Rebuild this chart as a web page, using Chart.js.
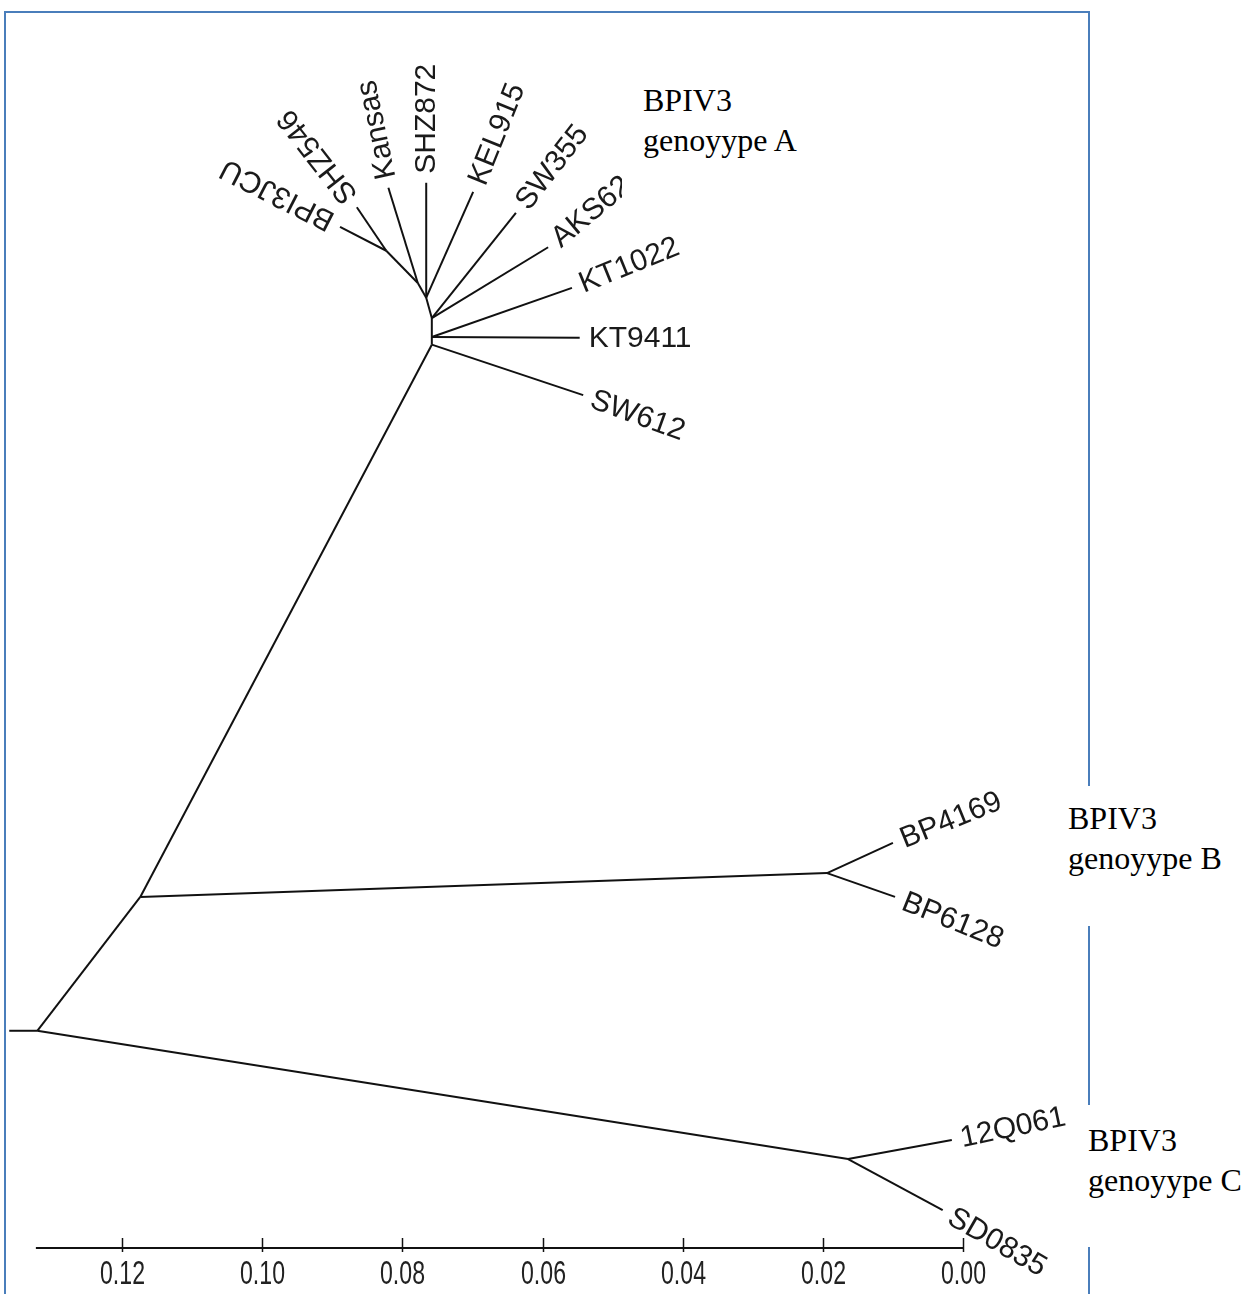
<!DOCTYPE html>
<html><head><meta charset="utf-8">
<script src="https://cdn.jsdelivr.net/npm/chart.js@4.4.0/dist/chart.umd.min.js"></script>
<style>
html,body{margin:0;padding:0;background:#fff;overflow:hidden}
#wrap{position:relative;width:1245px;height:1294px;overflow:hidden}
#frame{position:absolute;left:4px;top:11px;width:1082px;height:1400px;border:2px solid #4a7ebb}
canvas{position:absolute;left:0;top:0}
.box{position:absolute;background:#fff}
.geno{position:absolute;font-family:"Liberation Serif","Times New Roman",serif;font-size:32px;line-height:40px;color:#000;white-space:nowrap}
</style></head><body>
<div id="wrap">
  <div id="frame"></div>
  <canvas id="c" width="1245" height="1294"></canvas>
  <div class="box" style="left:622px;top:70px;width:200px;height:128px"></div>
  <div class="box" style="left:1060px;top:786px;width:185px;height:140px"></div>
  <div class="box" style="left:1078px;top:1105px;width:167px;height:142px"></div>
  <div class="geno" style="left:643px;top:80px">BPIV3<br>genoyype A</div>
  <div class="geno" style="left:1068px;top:798px">BPIV3<br>genoyype B</div>
  <div class="geno" style="left:1088px;top:1120px">BPIV3<br>genoyype C</div>
</div>
<script>
(function(){
  // node positions in branch-length units (x = distance, y = layout offset)
  const nodeNames = ['out','root','nAB','nB','nC','nA0','nA1','nA2','nA3','nA4','nA5',
    'BPI3JCU','SHZ546','Kansas','SHZ872','KEL915','SW355','AKS62','KT1022','KT9411','SW612',
    'BP4169','BP6128','12Q061','SD0835'];
  const nodeX = [0.1361,0.1321,0.1174,0.0194,0.0164,0.0758,0.0758,0.0758,0.0766,0.0778,0.0823,
    0.0889,0.0865,0.0820,0.0766,0.0699,0.0638,0.0592,0.0558,0.0547,0.0542,
    0.0100,0.0097,0.0016,0.0029];
  const nodeY = [0.0310,0.0310,0.0501,0.0535,0.0127,0.1289,0.1300,0.1327,0.1356,0.1377,0.1423,
    0.1457,0.1485,0.1513,0.1520,0.1507,0.1477,0.1428,0.1370,0.1299,0.1217,
    0.0578,0.0501,0.0154,0.0054];
  const edgeFrom = ['out','root','root','nAB','nAB','nB','nB','nC','nC',
    'nA0','nA1','nA2','nA3','nA4','nA5','nA5','nA4','nA3','nA3','nA2','nA2','nA1','nA1','nA0'];
  const edgeTo = ['root','nAB','nC','nA0','nB','BP4169','BP6128','12Q061','SD0835',
    'nA1','nA2','nA3','nA4','nA5','BPI3JCU','SHZ546','Kansas','SHZ872','KEL915','SW355','AKS62','KT1022','KT9411','SW612'];
  const tipNames = ['BPI3JCU','SHZ546','Kansas','SHZ872','KEL915','SW355','AKS62','KT1022','KT9411','SW612',
    'BP4169','BP6128','12Q061','SD0835'];
  const tipAngles = [207,232,-102,-90,-68,-52,-40,-22,0,20,-22,22,-12,30];
  const tickValues = [0.12,0.10,0.08,0.06,0.04,0.02,0.00];
  const tickLabels = ['0.12','0.10','0.08','0.06','0.04','0.02','0.00'];
  const axisFrom = 0.1323;

  const idx = n=>nodeNames.indexOf(n);
  const pt = n=>({x:nodeX[idx(n)], y:nodeY[idx(n)]});

  const datasets = edgeFrom.map((f,i)=>({
    data:[pt(f), pt(edgeTo[i])],
    showLine:true, borderColor:'#111', borderWidth:2, pointRadius:0, tension:0, fill:false
  }));

  const treeText = {
    id:'treeText',
    afterDatasetsDraw(chart){
      const ctx=chart.ctx, xs=chart.scales.x, ys=chart.scales.y;
      const y0 = ys.getPixelForValue(0);
      ctx.save();
      ctx.strokeStyle='#111'; ctx.lineWidth=2;
      ctx.beginPath();
      ctx.moveTo(xs.getPixelForValue(axisFrom), y0);
      ctx.lineTo(xs.getPixelForValue(0), y0);
      ctx.stroke();
      ctx.lineWidth=1.5;
      ctx.fillStyle='#222';
      ctx.font='34px "Liberation Sans", Arial, sans-serif';
      ctx.textAlign='center'; ctx.textBaseline='middle';
      tickValues.forEach((v,i)=>{
        const px=Math.round(xs.getPixelForValue(v))+0.5;
        ctx.beginPath(); ctx.moveTo(px,y0-10); ctx.lineTo(px,y0+4); ctx.stroke();
        ctx.save(); ctx.translate(px, y0+27); ctx.scale(0.68,1);
        ctx.fillText(tickLabels[i],0,0); ctx.restore();
      });
      // tip labels
      ctx.fillStyle='#1a1a1a';
      ctx.font='30px "Liberation Sans", Arial, sans-serif';
      ctx.textAlign='left'; ctx.textBaseline='middle';
      tipNames.forEach((n,i)=>{
        const a=tipAngles[i]*Math.PI/180;
        const px=xs.getPixelForValue(nodeX[idx(n)]), py=ys.getPixelForValue(nodeY[idx(n)]);
        ctx.save();
        ctx.translate(px+Math.cos(a)*9, py+Math.sin(a)*9);
        ctx.rotate(a);
        ctx.fillText(n,0,1);
        ctx.restore();
      });
      ctx.restore();
    }
  };

  new Chart(document.getElementById('c').getContext('2d'), {
    type:'scatter',
    data:{ datasets },
    options:{
      responsive:false, animation:false,
      layout:{ padding:0 },
      plugins:{ legend:{display:false}, tooltip:{enabled:false} },
      scales:{
        x:{ type:'linear', reverse:true, min:-0.04024, max:0.13742, display:false },
        y:{ type:'linear', min:-0.00656, max:0.17808, display:false }
      }
    },
    plugins:[treeText]
  });
})();
</script>
</body></html>
